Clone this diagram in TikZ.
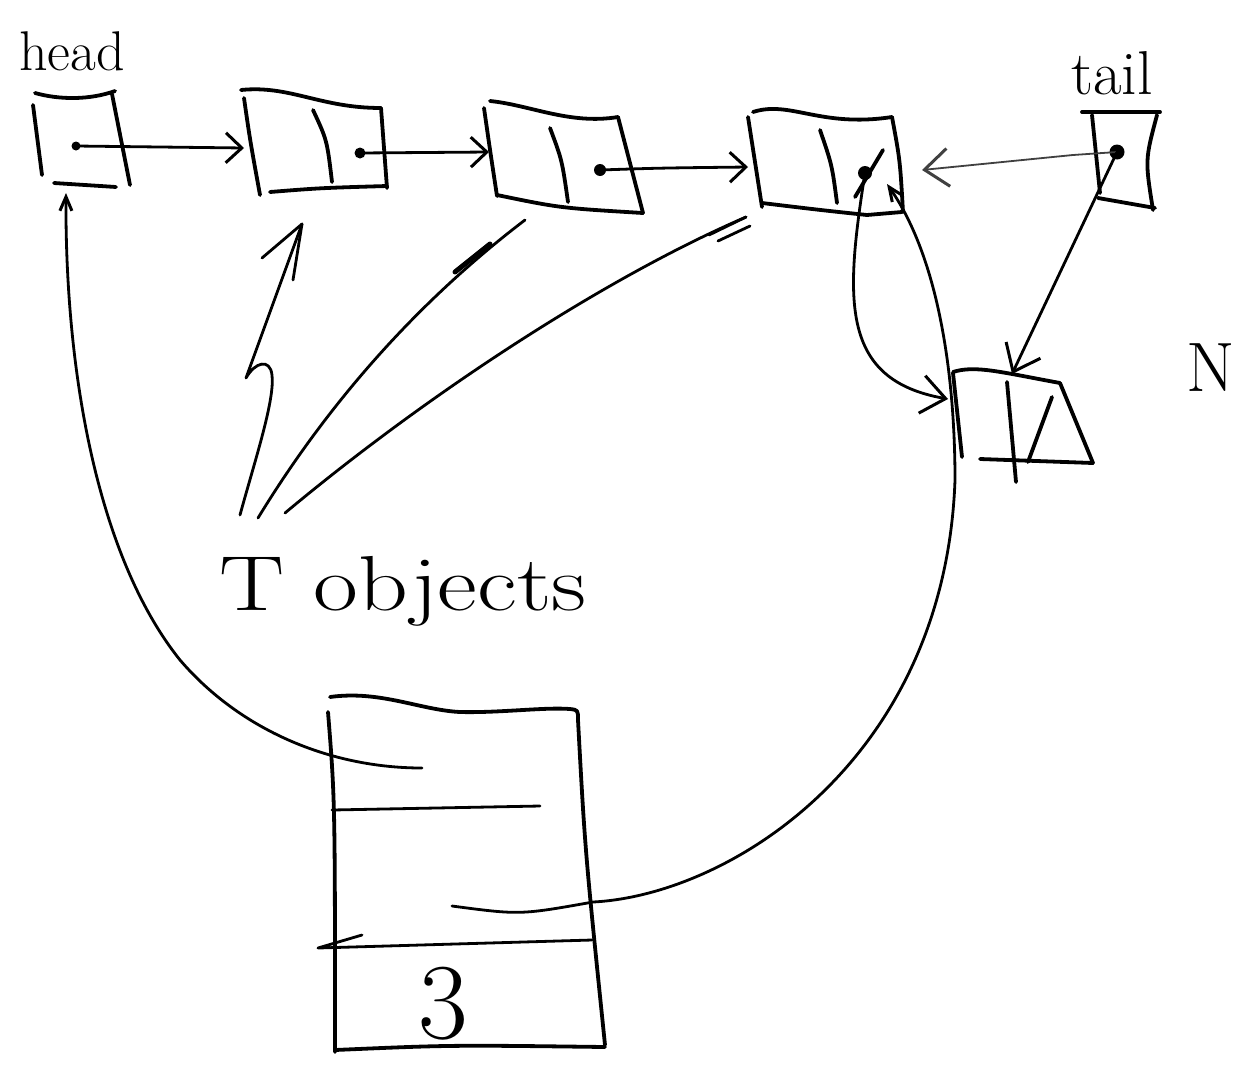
\documentclass[tikz,border=0pt]{standalone}
\usetikzlibrary{arrows.meta}
\begin{document}
\begin{tikzpicture}[x=1pt,y=-1pt,
  box/.style={line width=3.8pt,line cap=round,line join=round},
  wire/.style={line width=2.8pt,line cap=round,line join=round},
  fine/.style={line width=1.8pt,line cap=round,line join=round,black!75},
  barb/.style={-{Straight Barb[length=16pt,width=30pt,line width=3pt]}},
  bigbarb/.style={-{Straight Barb[length=24pt,width=38pt,line width=3pt]}},
  narrow/.style={-{Straight Barb[length=14pt,width=12pt,line width=3pt]}},
  lbl/.style={inner sep=0pt,anchor=base}]
\path[use as bounding box] (0,0) rectangle (1238,1071);

% ---------- labels ----------
\node[lbl,font=\fontsize{56}{56}\selectfont] (headlbl) at (72,70) {head};
\node[lbl,font=\fontsize{62}{62}\selectfont] (taillbl) at (1112,94) {tail};
\node[lbl,font=\fontsize{70}{70}\selectfont] (nlbl) at (1211,391) {N};
\node[lbl,font=\fontsize{78}{78}\selectfont] (tlbl) at (403,610) {\scalebox{1.25}[1]{T objects}};
\node[lbl,font=\fontsize{108}{108}\selectfont] (three) at (443,1038) {3};

% ---------- head box ----------
\draw[box] (35,93) .. controls (60,100) and (90,100) .. (115,91);
\draw[box] (33,105) -- (42,175);
\draw[box] (112,94) -- (130,185);
\draw[box] (54,183) -- (116,187);
\coordinate (hdot) at (76,146);
\coordinate (hbot) at (66,193);
\fill (hdot) circle (4.5);

% ---------- node 1 ----------
\draw[box] (241,90) .. controls (290,85) and (320,108) .. (381,108);
\draw[box] (244,98) .. controls (250,140) .. (260,195);
\draw[box] (381,108) -- (387,188);
\draw[box] (270,192) .. controls (320,188) .. (387,186);
\draw[box] (313,110) .. controls (327,140) .. (332,182);
\coordinate (n1in) at (244,148);
\coordinate (n1bot) at (302,224);
\coordinate (n1dot) at (360,153);
\fill (n1dot) circle (5.5);

% ---------- node 2 ----------
\draw[box] (490,101) .. controls (530,105) and (570,125) .. (618,117);
\draw[box] (484,108) .. controls (490,150) .. (497,196);
\draw[box] (618,117) -- (643,213);
\draw[box] (497,195) .. controls (560,208) .. (643,213);
\draw[box] (550,128) .. controls (562,160) .. (568,202);
\coordinate (n2in) at (489,152);
\coordinate (n2bot) at (525,220);
\coordinate (n2dot) at (600,170);
\fill (n2dot) circle (6);

% ---------- node 3 ----------
\draw[box] (753,112) .. controls (790,100) and (820,128) .. (892,117);
\draw[box] (748,117) -- (762,207);
\draw[box] (892,117) .. controls (900,160) .. (903,212);
\draw[box] (762,203) .. controls (820,210) .. (867,215) -- (902,212);
\draw[box] (820,130) .. controls (832,165) .. (837,203);
\coordinate (n3in) at (748,167);
\coordinate (n3bot) at (746,217);
\coordinate (n3dot) at (865,173);
\coordinate (n3right) at (922,170);
\coordinate (n3low) at (887,184);
\fill (n3dot) circle (7);
\draw[box] (883,150) -- (855,197);

% ---------- tail box ----------
\draw[box] (1082,112) -- (1160,112);
\draw[box] (1092,115) -- (1100,193);
\draw[box] (1157,115) .. controls (1145,160) .. (1153,210);
\draw[box] (1098,198) -- (1155,208);
\coordinate (tdot) at (1117,152);
\fill (tdot) circle (7.5);

% ---------- new node N ----------
\draw[box] (953,372) .. controls (975,365) and (1000,372) .. (1060,383);
\draw[box] (953,373) -- (962,457);
\draw[box] (1060,383) -- (1093,463);
\draw[box] (980,459) -- (1093,463);
\draw[box] (1007,382) -- (1016,482);
\draw[box] (1052,397) -- (1028,462);
\coordinate (nin) at (948,399);
\coordinate (ntop) at (1012,374);

% ---------- bottom box ----------
\draw[box] (330,697) .. controls (380,690) and (420,710) .. (460,712)
  .. controls (500,713) and (545,707) .. (570,709) .. controls (578,710) .. (578,720);
\draw[box] (328,712) .. controls (335,800) .. (335,1052);
\draw[box] (578,720) .. controls (585,850) .. (605,1045);
\draw[box] (335,1050) .. controls (450,1045) .. (605,1047);
\draw[wire] (332,810) -- (540,806);
\coordinate (brow1) at (422,768);
\coordinate (brow3) at (452,906);
\coordinate (brow4) at (592,940);
\coordinate (bfree) at (318,948);

% ---------- T objects pointers ----------
\coordinate (ta) at (240,515);
\coordinate (tb) at (258,518);
\coordinate (tc) at (285,513);

% ---------- connectors ----------
\draw[wire,barb] (hdot) -- (n1in);
\draw[wire,barb] (n1dot) -- (n2in);
\draw[wire,barb] (n2dot) .. controls (660,168) .. (n3in);
\draw[fine,bigbarb] (tdot) -- (1073,155) -- (n3right);
\draw[wire,bigbarb] (tdot) -- (ntop);
\draw[wire,bigbarb] (n3dot) .. controls (845,300) and (840,380) .. (nin);
\draw[wire,narrow] (brow3) .. controls (520,915) .. (593,902)
  .. controls (730,895) and (945,760) .. (955,480)
  .. controls (955,380) and (940,260) .. (n3low);
\draw[wire,narrow] (brow1) .. controls (330,768) and (240,730) .. (180,660)
  .. controls (100,560) and (65,380) .. (hbot);
\draw[wire] (brow4) -- (bfree) -- (362,935);
% zig-zag pointer
\draw[wire] (ta) .. controls (255,460) and (275,400) .. (272,375)
  .. controls (270,358) and (255,362) .. (246,378) -- (n1bot);
\draw[wire] (262,258) -- (n1bot) -- (293,280);
\draw[wire] (tb) .. controls (330,400) and (420,300) .. (n2bot);
\draw[line width=5pt,line cap=round] (455,272) -- (490,244);
\draw[wire] (tc) .. controls (420,400) and (600,280) .. (n3bot);
\draw[wire] (709,235) -- (n3bot);
\draw[wire] (718,241) -- (750,226);
\end{tikzpicture}
\end{document}
